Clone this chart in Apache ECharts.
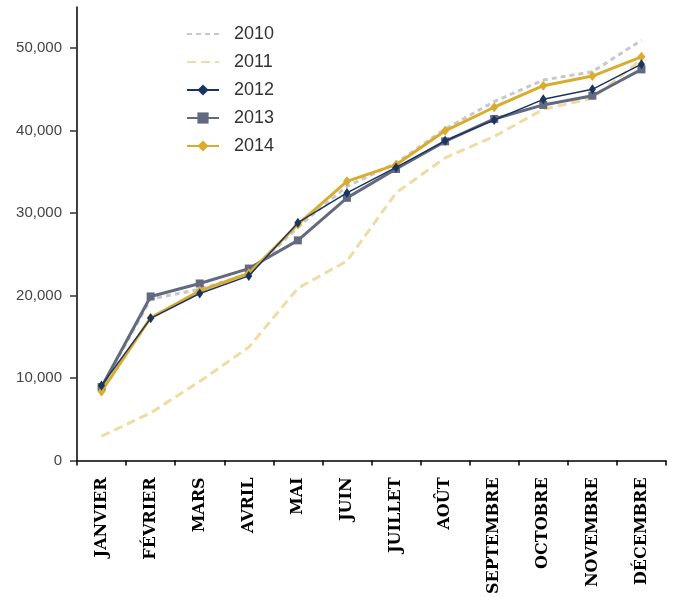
<!DOCTYPE html>
<html>
<head>
<meta charset="utf-8">
<script src="https://cdn.jsdelivr.net/npm/echarts@6/dist/echarts.min.js"></script>
<style>html,body{margin:0;padding:0;background:#fff;}#c{width:681px;height:597px;}</style>
</head>
<body>
<div id="c"></div>
<script>
var months = ['JANVIER','FÉVRIER','MARS','AVRIL','MAI','JUIN','JUILLET','AOÛT','SEPTEMBRE','OCTOBRE','NOVEMBRE','DÉCEMBRE'];
var yTicks = [0, 10000, 20000, 30000, 40000, 50000];
var s2010 = [8800, 19560, 20770, 22600, 28300, 33250, 36070, 40200, 43520, 46140, 47140, 50970];
var s2011 = [2930, 5760, 9580, 13730, 20890, 24190, 32450, 36700, 39290, 42590, 43920, 48630];
var s2012 = [9090, 17230, 20250, 22380, 28830, 32450, 35540, 38770, 41300, 43800, 45010, 48070];
var s2013 = [8900, 19890, 21460, 23270, 26690, 31850, 35350, 38700, 41420, 43120, 44240, 47430];
var s2014 = [8370, 17300, 20570, 22700, 28620, 33850, 35870, 39980, 42840, 45450, 46620, 48950];

var chart = echarts.init(document.getElementById('c'));
chart.setOption({
  animation: false,
  grid: {left: 77, right: 15, top: 7, bottom: 134, containLabel: false},
  legend: {
    orient: 'vertical', left: 181, top: 19,
    itemWidth: 32, itemHeight: 14, itemGap: 8,
    data: [
      {name: '2010', itemStyle: {opacity: 0}},
      {name: '2011', itemStyle: {opacity: 0}},
      '2012', '2013', '2014'
    ],
    textStyle: {fontFamily: 'Liberation Sans', fontSize: 18, color: '#333', lineHeight: 20, padding: [0,0,0,10]}
  },
  xAxis: {
    type: 'category', data: months, boundaryGap: true,
    axisLine: {lineStyle: {color: '#000', width: 1.5}},
    axisTick: {show: true, length: 5, alignWithLabel: false, lineStyle: {color: '#000', width: 1.5}},
    axisLabel: {rotate: 90, interval: 0, margin: 17, color: '#000', fontFamily: 'DejaVu Serif', fontWeight: 'bold', fontSize: 16}
  },
  yAxis: {
    type: 'value', min: 0, max: 55000, interval: 10000,
    axisLine: {show: true, lineStyle: {color: '#000', width: 1.5}},
    axisTick: {show: true, length: 7, customValues: yTicks, lineStyle: {color: '#333', width: 1.5}},
    splitLine: {show: false},
    axisLabel: {customValues: yTicks, margin: 15, color: '#444', fontFamily: 'Liberation Sans', fontSize: 15,
      formatter: function (v) { return v.toLocaleString('en-US'); }}
  },
  series: [
    {name: '2010', type: 'line', data: s2010, symbol: 'none', z: 1,
     lineStyle: {color: '#c8c8cc', width: 3, type: [5, 4]}, itemStyle: {color: '#c8c8cc'}},
    {name: '2011', type: 'line', data: s2011, symbol: 'none', z: 2,
     lineStyle: {color: '#efdba3', width: 3, type: [9, 5]}, itemStyle: {color: '#efdba3'}},
    {name: '2013', type: 'line', data: s2013, symbol: 'rect', symbolSize: 8, z: 3,
     lineStyle: {color: '#626a80', width: 3}, itemStyle: {color: '#626a80'}},
    {name: '2014', type: 'line', data: s2014, symbol: 'diamond', symbolSize: [8, 10], z: 4,
     lineStyle: {color: '#d8ad2e', width: 3}, itemStyle: {color: '#d8ad2e'}},
    {name: '2012', type: 'line', data: s2012, symbol: 'diamond', symbolSize: [7, 10], z: 5,
     lineStyle: {color: '#1c3560', width: 1.5}, itemStyle: {color: '#1c3560'}}
  ]
});
</script>
</body>
</html>
